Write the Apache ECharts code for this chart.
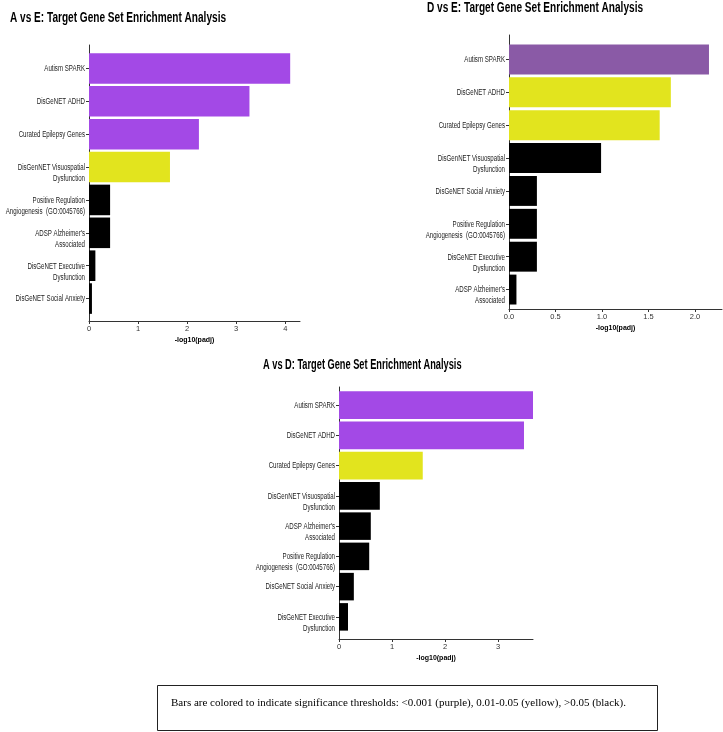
<!DOCTYPE html>
<html>
<head>
<meta charset="utf-8">
<script src="https://cdn.jsdelivr.net/npm/echarts@6/dist/echarts.min.js"></script>
<style>
    html, body { margin: 0; padding: 0; background: #fff; }
    #ecMain { width: 723px; height: 732px; }
</style>
</head>
<body>
<div id="ecMain"></div>
<script>
// A vs E
var catsAE = ['Autism SPARK', 'DisGeNET ADHD', 'Curated Epilepsy Genes', 'DisGenNET Visuospatial\nDysfunction',
    'Positive Regulation\nAngiogenesis  (GO:0045766)', "ADSP Alzheimer's\nAssociated",
    'DisGeNET Executive\nDysfunction', 'DisGeNET Social Anxiety'];
var valsAE = [4.1, 3.27, 2.24, 1.65, 0.43, 0.43, 0.13, 0.06];
var sigAE = ['purple', 'purple', 'purple', 'yellow', 'black', 'black', 'black', 'black'];
var ticksAE = [0, 1, 2, 3, 4];

// D vs E
var catsDE = ['Autism SPARK', 'DisGeNET ADHD', 'Curated Epilepsy Genes', 'DisGenNET Visuospatial\nDysfunction',
    'DisGeNET Social Anxiety', 'Positive Regulation\nAngiogenesis  (GO:0045766)',
    'DisGeNET Executive\nDysfunction', "ADSP Alzheimer's\nAssociated"];
var valsDE = [2.15, 1.74, 1.62, 0.99, 0.30, 0.30, 0.30, 0.08];
var sigDE = ['purple', 'yellow', 'yellow', 'black', 'black', 'black', 'black', 'black'];
var ticksDE = [0, 0.5, 1, 1.5, 2];

// A vs D
var catsAD = ['Autism SPARK', 'DisGeNET ADHD', 'Curated Epilepsy Genes', 'DisGenNET Visuospatial\nDysfunction',
    "ADSP Alzheimer's\nAssociated", 'Positive Regulation\nAngiogenesis  (GO:0045766)',
    'DisGeNET Social Anxiety', 'DisGeNET Executive\nDysfunction'];
var valsAD = [3.66, 3.49, 1.58, 0.77, 0.60, 0.57, 0.28, 0.17];
var sigAD = ['purple', 'purple', 'yellow', 'black', 'black', 'black', 'black', 'black'];
var ticksAD = [0, 1, 2, 3];

var titles = ['A vs E: Target Gene Set Enrichment Analysis',
    'D vs E: Target Gene Set Enrichment Analysis',
    'A vs D: Target Gene Set Enrichment Analysis'];
var noteText = 'Bars are colored to indicate significance thresholds: <0.001 (purple), 0.01-0.05 (yellow), >0.05 (black).';

var colorMap = { purple: '#a349e6', yellow: '#e2e41e', black: '#000000' };
var colorMapDE = { purple: '#8a5aa6', yellow: '#e2e41e', black: '#000000' };

var axisColor = '#333';
var labelFont = 'Arial, "Liberation Sans", sans-serif';
var narrow = 0.72;   // no condensed font installed, squeeze text instead

// panel layout: grid boxes for the bars
var grids = [
    { left: 89, top: 52, width: 211, height: 263 },
    { left: 509, top: 43, width: 213, height: 263 },
    { left: 339, top: 390, width: 194, height: 242 }
];

function barData(vals, sig, cmap) {
    return vals.map(function (v, i) {
        return { value: v, itemStyle: { color: cmap[sig[i]] } };
    });
}

function valueAxis(gridIndex, max, ticks, offset, fmt) {
    return {
        type: 'value',
        gridIndex: gridIndex,
        min: 0,
        max: max,
        offset: offset,
        name: '-log10(padj)',
        nameLocation: 'middle',
        nameGap: 16,
        nameTextStyle: { fontSize: 7, fontWeight: 'bold', color: '#000', fontFamily: labelFont },
        splitLine: { show: false },
        axisLine: { show: true, lineStyle: { color: axisColor, width: 1 } },
        axisTick: { show: true, length: 3, customValues: ticks, lineStyle: { color: axisColor } },
        axisLabel: {
            customValues: ticks,
            margin: 4,
            fontSize: 7.5,
            color: '#333',
            fontFamily: labelFont,
            formatter: fmt
        }
    };
}

function catAxis(gridIndex, cats) {
    return {
        type: 'category',
        gridIndex: gridIndex,
        data: cats,
        inverse: true,
        axisLine: { show: false },
        axisTick: { show: true, length: 3, alignWithLabel: true, lineStyle: { color: axisColor } },
        axisLabel: { show: false }
    };
}

// empty axis used only to draw the y axis line over the whole panel height
function lineAxis(gridIndex) {
    return {
        type: 'value', gridIndex: gridIndex,
        splitLine: { show: false }, axisTick: { show: false }, axisLabel: { show: false },
        axisLine: { show: true, lineStyle: { color: axisColor } }
    };
}

function titleText(text, x, y, sx) {
    return {
        type: 'text',
        x: x,
        y: y,
        scaleX: sx,
        style: {
            text: text,
            fill: '#000',
            font: 'bold 14px ' + labelFont,
            verticalAlign: 'middle'
        }
    };
}

var gridList = grids.map(function (g) {
    return { left: g.left, top: g.top, width: g.width, height: g.height, outerBoundsMode: 'none' };
});
gridList.push(
    { left: 89, top: 45, width: 1, height: 276, outerBoundsMode: 'none' },
    { left: 509, top: 35, width: 1, height: 274, outerBoundsMode: 'none' },
    { left: 339, top: 387, width: 1, height: 252, outerBoundsMode: 'none' }
);

var option = {
    backgroundColor: '#fff',
    animation: false,
    grid: gridList,
    xAxis: [
        valueAxis(0, 4.3, ticksAE, 6, '{value}'),
        valueAxis(1, 2.29, ticksDE, 3, function (v) { return v.toFixed(1); }),
        valueAxis(2, 3.66, ticksAD, 7, '{value}'),
        { type: 'value', gridIndex: 3, show: false },
        { type: 'value', gridIndex: 4, show: false },
        { type: 'value', gridIndex: 5, show: false }
    ],
    yAxis: [
        catAxis(0, catsAE),
        catAxis(1, catsDE),
        catAxis(2, catsAD),
        lineAxis(3),
        lineAxis(4),
        lineAxis(5)
    ],
    series: [
        {
            name: 'A vs E',
            type: 'bar',
            xAxisIndex: 0,
            yAxisIndex: 0,
            barCategoryGap: '7%',
            data: barData(valsAE, sigAE, colorMap)
        },
        {
            name: 'D vs E',
            type: 'bar',
            xAxisIndex: 1,
            yAxisIndex: 1,
            barCategoryGap: '9%',
            data: barData(valsDE, sigDE, colorMapDE)
        },
        {
            name: 'A vs D',
            type: 'bar',
            xAxisIndex: 2,
            yAxisIndex: 2,
            barCategoryGap: '9%',
            data: barData(valsAD, sigAD, colorMap)
        }
    ]
};

var chart = getechart('ecMain', option);

// category labels: placed at the axis positions, squeezed to look condensed
var graphics = [
    titleText(titles[0], 10, 18, 0.72),
    titleText(titles[1], 427, 8, 0.72),
    titleText(titles[2], 263, 365, 0.66),
    {
        type: 'rect',
        shape: { x: 157.5, y: 685.5, width: 500, height: 45 },
        style: { fill: '#fff', stroke: '#222', lineWidth: 1 }
    },
    {
        type: 'text',
        x: 171,
        y: 703,
        style: {
            text: noteText,
            fill: '#000',
            font: '11px "Liberation Serif", "Times New Roman", serif',
            verticalAlign: 'middle'
        }
    }
];
[catsAE, catsDE, catsAD].forEach(function (cats, k) {
    cats.forEach(function (c) {
        var py = chart.convertToPixel({ yAxisIndex: k }, c);
        graphics.push({
            type: 'text',
            x: grids[k].left - 4,
            y: py - 5,
            scaleX: narrow,
            style: {
                text: c,
                fill: '#222',
                font: '8.5px ' + labelFont,
                align: 'right',
                verticalAlign: 'top',
                lineHeight: 11
            }
        });
    });
});
chart.setOption({ graphic: graphics });

function getechart(idName, idOption) {
    var id = echarts.init(document.getElementById(idName));
    id.setOption(idOption);
    adaptionWindows(id);
    return id;
}

function adaptionWindows(chartName) {
    window.addEventListener('resize', function () {
        chartName.resize();
    });
}
</script>
</body>
</html>
